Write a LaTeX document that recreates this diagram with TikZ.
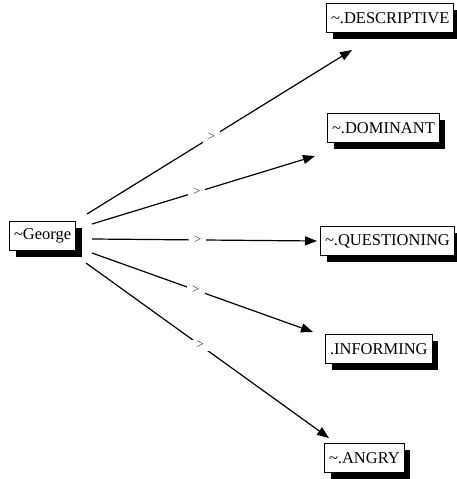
\documentclass[tikz,border=0pt]{standalone}
\usepackage{fontspec}
\setmainfont{Liberation Serif}
\usepackage{tikz}
\usetikzlibrary{arrows.meta,shadows}

\begin{document}
\begin{tikzpicture}[x=1pt, y=-1pt,
  tag/.style={draw, line width=1pt, fill=white, anchor=west,
    font=\fontsize{16.5}{19}\selectfont, inner xsep=4.5pt, minimum height=29pt,
    drop shadow={shadow xshift=6pt, shadow yshift=-6pt, fill=black, opacity=1}},
  link/.style={-{Triangle[length=12pt, width=9pt]}, line width=1.2pt},
  gt/.style={fill=white, text=black!80, inner xsep=5pt, inner ysep=2pt, font=\fontsize{13}{14}\selectfont}]
  \useasboundingbox (0,0) rectangle (457,479);
  % Boxes
  \node[tag] (george) at (9,236) {\textasciitilde George};
  \node[tag] (descr) at (326,18) {\textasciitilde.DESCRIPTIVE};
  \node[tag] (domin) at (327,128) {\textasciitilde.DOMINANT};
  \node[tag] (quest) at (320,241) {\textasciitilde.QUESTIONING};
  \node[tag] (inform) at (325,349) {.INFORMING};
  \node[tag] (angry) at (324,458) {\textasciitilde.ANGRY};
  % Arrow ends
  \coordinate (s1) at (87,214);  \coordinate (e1) at (352,50);
  \coordinate (s2) at (92,224);  \coordinate (e2) at (315,156);
  \coordinate (s3) at (92,239);  \coordinate (e3) at (317,241);
  \coordinate (s4) at (92,253);  \coordinate (e4) at (313,332);
  \coordinate (s5) at (86,263);  \coordinate (e5) at (329,438);
  % Arrows
  \foreach \i in {1,...,5} {
    \draw[link] (s\i) -- node[gt, pos=0.47] {>} (e\i);
  }
\end{tikzpicture}
\end{document}
